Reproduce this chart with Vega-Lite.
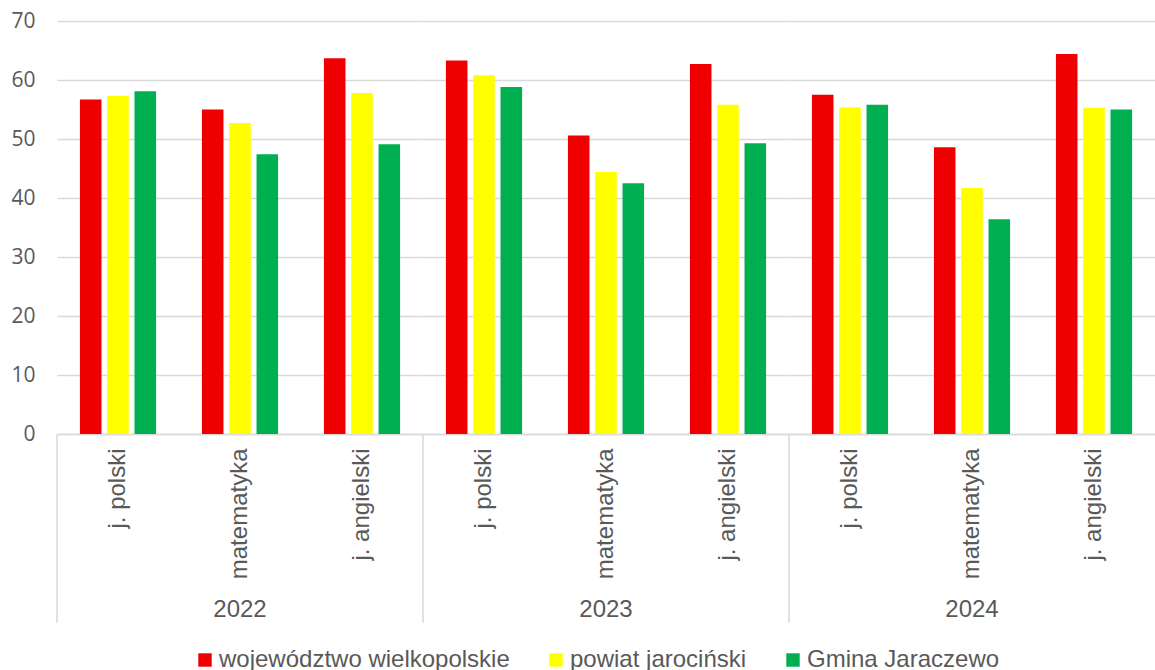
{
  "$schema": "https://vega.github.io/schema/vega-lite/v6.json",
  "padding": {"left": 10, "top": 10, "right": 0, "bottom": 0},
  "background": "white",
  "data": {"values": [
    {"year": "2022", "subject": "j. polski", "series": "województwo wielkopolskie", "value": 56.7},
    {"year": "2022", "subject": "j. polski", "series": "powiat jarociński", "value": 57.3},
    {"year": "2022", "subject": "j. polski", "series": "Gmina Jaraczewo", "value": 58.1},
    {"year": "2022", "subject": "matematyka", "series": "województwo wielkopolskie", "value": 55.0},
    {"year": "2022", "subject": "matematyka", "series": "powiat jarociński", "value": 52.7},
    {"year": "2022", "subject": "matematyka", "series": "Gmina Jaraczewo", "value": 47.4},
    {"year": "2022", "subject": "j. angielski", "series": "województwo wielkopolskie", "value": 63.7},
    {"year": "2022", "subject": "j. angielski", "series": "powiat jarociński", "value": 57.8},
    {"year": "2022", "subject": "j. angielski", "series": "Gmina Jaraczewo", "value": 49.1},
    {"year": "2023", "subject": "j. polski", "series": "województwo wielkopolskie", "value": 63.3},
    {"year": "2023", "subject": "j. polski", "series": "powiat jarociński", "value": 60.8},
    {"year": "2023", "subject": "j. polski", "series": "Gmina Jaraczewo", "value": 58.8},
    {"year": "2023", "subject": "matematyka", "series": "województwo wielkopolskie", "value": 50.6},
    {"year": "2023", "subject": "matematyka", "series": "powiat jarociński", "value": 44.4},
    {"year": "2023", "subject": "matematyka", "series": "Gmina Jaraczewo", "value": 42.5},
    {"year": "2023", "subject": "j. angielski", "series": "województwo wielkopolskie", "value": 62.7},
    {"year": "2023", "subject": "j. angielski", "series": "powiat jarociński", "value": 55.8},
    {"year": "2023", "subject": "j. angielski", "series": "Gmina Jaraczewo", "value": 49.3},
    {"year": "2024", "subject": "j. polski", "series": "województwo wielkopolskie", "value": 57.5},
    {"year": "2024", "subject": "j. polski", "series": "powiat jarociński", "value": 55.4},
    {"year": "2024", "subject": "j. polski", "series": "Gmina Jaraczewo", "value": 55.8},
    {"year": "2024", "subject": "matematyka", "series": "województwo wielkopolskie", "value": 48.6},
    {"year": "2024", "subject": "matematyka", "series": "powiat jarociński", "value": 41.7},
    {"year": "2024", "subject": "matematyka", "series": "Gmina Jaraczewo", "value": 36.4},
    {"year": "2024", "subject": "j. angielski", "series": "województwo wielkopolskie", "value": 64.4},
    {"year": "2024", "subject": "j. angielski", "series": "powiat jarociński", "value": 55.3},
    {"year": "2024", "subject": "j. angielski", "series": "Gmina Jaraczewo", "value": 55.0}
  ]},
  "facet": {
    "column": {
      "field": "year", "type": "ordinal",
      "header": {"title": null, "labelOrient": "bottom", "labelFontSize": 24, "labelColor": "#595959", "labelFont": "Liberation Sans", "labelPadding": 19}
    }
  },
  "spacing": 0,
  "bounds": "flush",
  "spec": {
    "width": 366,
    "height": 413,
    "layer": [
      {
        "mark": {"type": "bar"},
        "encoding": {
          "x": {
            "field": "subject", "type": "nominal",
            "sort": ["j. polski", "matematyka", "j. angielski"],
            "scale": {"paddingInner": 0, "paddingOuter": 0},
            "axis": {"title": null, "labelAngle": 270, "labelFontSize": 24, "labelFont": "Liberation Sans", "labelColor": "#595959", "labelPadding": 14, "ticks": false, "domainColor": "#d9d9d9", "domainWidth": 1.5, "labelLimit": 300}
          },
          "xOffset": {
            "field": "series", "type": "nominal",
            "sort": ["województwo wielkopolskie", "powiat jarociński", "Gmina Jaraczewo"],
            "scale": {"paddingInner": 0.21, "paddingOuter": 0.84}
          },
          "y": {
            "field": "value", "type": "quantitative",
            "scale": {"domain": [0, 70], "nice": false},
            "axis": {"title": null, "values": [0, 10, 20, 30, 40, 50, 60, 70], "domain": false, "ticks": false, "labelPadding": 22, "labelFontSize": 21, "labelFont": "Open Sans", "labelColor": "#595959", "gridColor": "#d9d9d9", "gridWidth": 1.3}
          },
          "color": {
            "field": "series", "type": "nominal",
            "scale": {"domain": ["województwo wielkopolskie", "powiat jarociński", "Gmina Jaraczewo"], "range": ["#EE0000", "#FFFF00", "#00B050"]},
            "legend": {"orient": "none", "legendX": 136, "legendY": 627, "direction": "horizontal", "title": null, "symbolType": "square", "symbolSize": 180, "symbolStrokeWidth": 0, "symbolOpacity": 1, "labelFontSize": 24, "labelFont": "Liberation Sans", "labelColor": "#595959", "columnPadding": 34, "labelOffset": 2, "padding": 0, "labelLimit": 400}
          }
        }
      },
      {
        "transform": [{"filter": "datum.subject == 'j. polski' && datum.series == 'Gmina Jaraczewo'"}],
        "mark": {"type": "rule", "color": "#d9d9d9", "strokeWidth": 1.5},
        "encoding": {
          "x": {"field": "subject", "type": "nominal", "sort": ["j. polski", "matematyka", "j. angielski"], "bandPosition": 0},
          "y": {"datum": 0},
          "y2": {"datum": -32}
        }
      }
    ]
  },
  "config": {
    "view": {"stroke": null},
    "font": "Liberation Sans"
  }
}
